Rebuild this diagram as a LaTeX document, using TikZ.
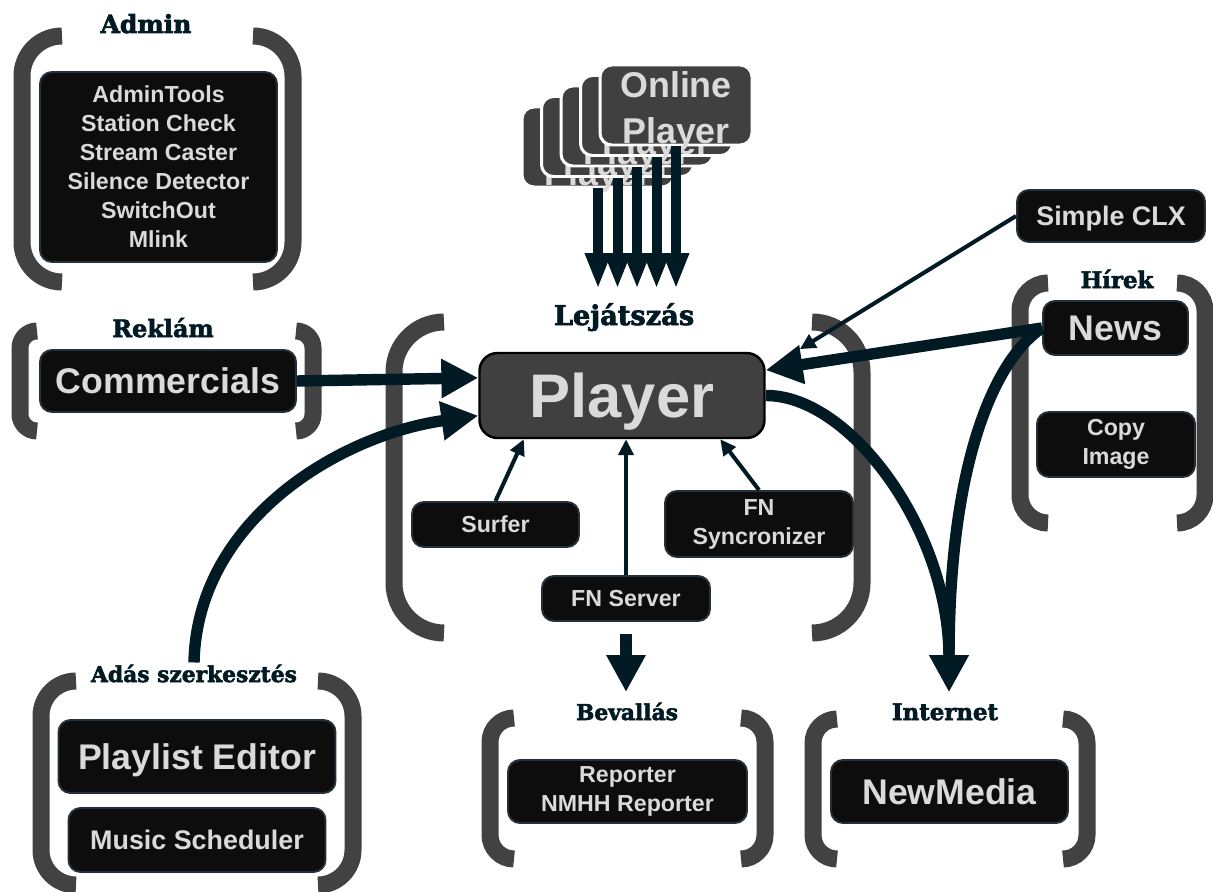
\documentclass[tikz,border=0pt]{standalone}
\usepackage{fontspec}
\setmainfont{Liberation Sans}
\newfontfamily\lblfont{DejaVu Serif}[BoldFeatures={FakeBold=2.6}]
\usetikzlibrary{arrows.meta}
\newdimen\px \px=0.02cm
\definecolor{navy}{HTML}{021A24}
\definecolor{brk}{HTML}{424242}
\definecolor{boxblack}{HTML}{0D0D0D}
\definecolor{boxedge}{HTML}{24313A}
\definecolor{boxtext}{HTML}{DADADA}
\definecolor{cardgray}{HTML}{404040}
\tikzstyle{appbox} = [rectangle, draw=boxedge, line width=1.1pt, fill=boxblack,
    rounded corners=12\px, text=boxtext, align=center, inner sep=0pt]
\tikzstyle{nodesc} = [text depth=0pt]
\tikzstyle{txtS} = [font=\bfseries\fontsize{13.2}{16.5}\selectfont]
\tikzstyle{txtM} = [font=\bfseries\fontsize{15.3}{18}\selectfont]
\tikzstyle{txtL} = [font=\bfseries\fontsize{20.3}{24}\selectfont]
\tikzstyle{playerbox} = [rectangle, draw=black, line width=1.4pt, fill=cardgray,
    rounded corners=18\px, minimum width=285\px, minimum height=85\px, text depth=0pt,
    text=boxtext, font=\bfseries\fontsize{35}{40}\selectfont]
\tikzstyle{card} = [rectangle, draw=white, line width=1.7pt, fill=cardgray,
    rounded corners=12\px, minimum width=152\px, minimum height=80\px, inner sep=0pt,
    text=boxtext, font=\bfseries\fontsize{20.4}{26.6}\selectfont]
\tikzstyle{grplabel} = [text=navy, anchor=base, inner sep=1pt,
    font=\lblfont\bfseries\fontsize{13}{16}\selectfont]
\tikzstyle{bracket} = [draw=brk, line width=17\px]
\tikzstyle{flow} = [draw=navy, line width=6.5pt, -{Triangle[length=21pt,width=21pt]}]
\tikzstyle{stackflow} = [draw=navy, line width=5.7pt, -{Triangle[length=20.4pt,width=13.6pt]}]
\tikzstyle{thinflow} = [draw=navy, line width=2.3pt, -{Triangle[length=9pt,width=8.5pt]}]
\newcommand{\cardtext}{\raisebox{8\px}[0pt][0pt]{\begin{tabular}[t]{@{}c@{}}Online\\Player\end{tabular}}}
\begin{document}
\begin{tikzpicture}[x=0.02cm, y=-0.02cm]
    \useasboundingbox (0,0) rectangle (1213,892);
    \fill[white] (0,0) rectangle (1213,892);

    \foreach \xl/\xr/\yt/\yb/\rad in {22/293/36/282/40, 20/313/331/431/17, 394/862/322/633/50,
        1020/1205/283/523/28, 41/353/681/885/35, 490/765/718/859/24, 813/1087/719/859/24}{
        \draw[bracket, rounded corners=\rad\px] ({\xl+\rad},\yt) -- (\xl,\yt) -- (\xl,\yb) -- ({\xl+\rad},\yb);
        \draw[bracket, rounded corners=\rad\px] ({\xr-\rad},\yt) -- (\xr,\yt) -- (\xr,\yb) -- ({\xr-\rad},\yb);
    }

    \node[grplabel, font=\lblfont\bfseries\fontsize{14.2}{16}\selectfont] (lbladmin) at (146,33) {Admin};
    \node[grplabel, font=\lblfont\bfseries\fontsize{13.6}{16}\selectfont] (lblreklam) at (163,337) {Reklám};
    \node[grplabel, font=\lblfont\bfseries\fontsize{15.5}{18}\selectfont] (lbllejatszas) at (624,325) {Lejátszás};
    \node[grplabel] (lblhirek) at (1117,288) {Hírek};
    \node[grplabel, font=\lblfont\bfseries\fontsize{12.4}{16}\selectfont] (lbladas) at (194,682) {Adás szerkesztés};
    \node[grplabel, font=\lblfont\bfseries\fontsize{12.4}{16}\selectfont] (lblbevallas) at (627,720) {Bevallás};
    \node[grplabel] (lblinternet) at (945,720) {Internet};

    \node[appbox, txtS, minimum width=237\px, minimum height=190\px] (admintools) at (158.5,167)
        {AdminTools\\Station Check\\Stream Caster\\Silence Detector\\SwitchOut\\Mlink};
    \node[appbox, txtL, nodesc, minimum width=256\px, minimum height=62\px] (commercials) at (168,381) {Commercials};
    \node[playerbox] (player) at (622,395.5) {Player};
    \node[appbox, txtS, nodesc, minimum width=167\px, minimum height=45\px] (surfer) at (495.5,524.5) {Surfer};
    \node[appbox, txtS, minimum width=188\px, minimum height=66\px] (fnsync) at (759,524) {FN\\Syncronizer};
    \node[appbox, txtS, nodesc, minimum width=168\px, minimum height=45\px] (fnserver) at (626,598.5) {FN Server};
    \node[appbox, txtM, nodesc, minimum width=188\px, minimum height=52\px] (simpleclx) at (1111,216) {Simple CLX};
    \node[appbox, txtL, nodesc, minimum width=145\px, minimum height=54\px] (news) at (1115.5,328) {News};
    \node[appbox, txtS, minimum width=158\px, minimum height=65\px] (copyimage) at (1116,444.5) {Copy\\Image};
    \node[appbox, txtL, nodesc, minimum width=277\px, minimum height=73\px] (playlist) at (197,756.5) {Playlist Editor};
    \node[appbox, txtM, nodesc, minimum width=257\px, minimum height=64\px] (music) at (197,840) {Music Scheduler};
    \node[appbox, txtS, minimum width=239\px, minimum height=63\px] (reporter) at (627.5,791.5) {Reporter\\NMHH Reporter};
    \node[appbox, txtL, nodesc, minimum width=237\px, minimum height=63\px] (newmedia) at (949.5,791.5) {NewMedia};

    \foreach \i in {0,...,4}
        \node[card] (card\i) at ({598+19.5*\i},{147-10.5*\i}) {\cardtext};

    \coordinate (lejin) at (622,289);
    \coordinate (bevin) at (626,692);
    \coordinate (netin) at (949,692);

    \foreach \i in {0,...,4}
        \draw[stackflow] (card\i.south) -- (card\i.south |- lejin);

    \draw[flow] (commercials.east) -- (player.173);
    \draw[flow] (lbladas.north) .. controls (197,520) and (340,435) .. (player.188);
    \draw[flow] (news.west) -- (player.10);
    \draw[thinflow, shorten >=0.8cm] (simpleclx.west) -- (player.10);
    \draw[flow] (player.east) .. controls (850,395) and (949,530) .. (netin);
    \draw[flow] (news.west) .. controls (1000,355) and (949,450) .. (netin);
    \draw[flow, shorten <=12\px] (fnserver.south) -- (bevin);

    \draw[thinflow] (surfer.north) -- (player.204);
    \draw[thinflow] (fnserver.north) -- (fnserver.north |- player.south);
    \draw[thinflow] (fnsync.north) -- (player.336);
  \end{tikzpicture}
\end{document}
